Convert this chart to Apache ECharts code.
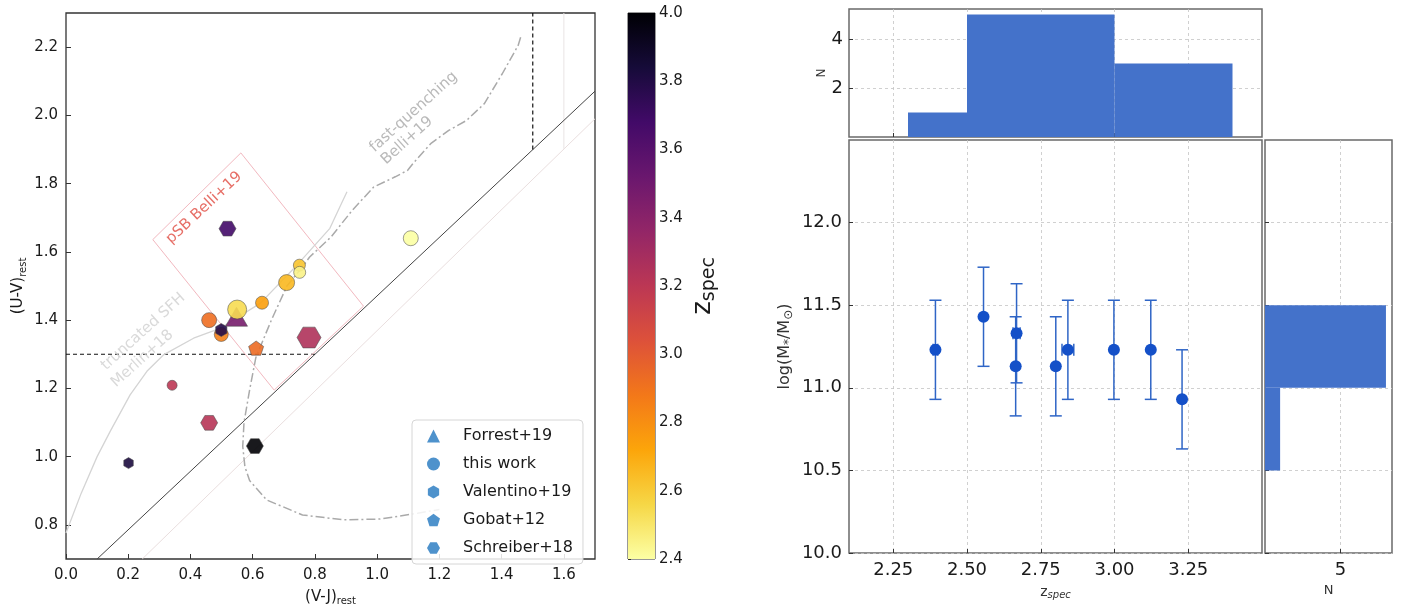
<!DOCTYPE html>
<html>
<head>
<meta charset="utf-8">
<script src="https://cdn.jsdelivr.net/npm/echarts@6/dist/echarts.min.js"></script>
<style>
  html, body { margin: 0; padding: 0; background: #fff; }
  #chart { width: 1412px; height: 612px; }
</style>
</head>
<body>
<div id="chart"></div>
<script>
// ---- UVJ diagram: [V-J, U-V, z_spec]
const forrestPts = [[0.548, 1.41, 3.47]];
const thisWorkPts = [
  [1.108, 1.640, 2.40],
  [0.750, 1.561, 2.62],
  [0.751, 1.540, 2.45],
  [0.709, 1.510, 2.66],
  [0.630, 1.451, 2.74],
  [0.550, 1.431, 2.54],
  [0.460, 1.400, 2.92],
  [0.499, 1.358, 2.85],
  [0.341, 1.209, 3.20]
];
const valentinoPts = [[0.499, 1.371, 3.79], [0.201, 0.981, 3.82]];
const gobatPts = [[0.611, 1.318, 2.93]];
const schreiberPts = [[0.519, 1.668, 3.68], [0.781, 1.349, 3.25], [0.460, 1.099, 3.22], [0.607, 1.031, 4.0]];

// marker sizes (px) per point
const forrestSize = [[22, 19]];
const thisWorkSize = [15, 12, 12, 16, 13, 19, 15, 14, 10];
const valentinoSize = [13, 11];
const gobatSize = [15];
const schreiberSize = [17, 24, 17, 17];

// selection boundaries and tracks
const selLine = [[0.1, 0.7], [1.7, 2.071]];
const selCutH = [[0, 1.3], [0.8, 1.3]];
const selCutV = [[1.5, 1.9], [1.5, 2.3]];
const altLine = [[0.245, 0.7], [1.7, 1.99]];
const altCutV = [[1.6, 1.902], [1.6, 2.3]];
const psbBox = [[0.562, 1.890], [0.956, 1.441], [0.669, 1.195], [0.279, 1.636], [0.562, 1.890]];
const merlinTrack = [
  [0, 0.776], [0.049, 0.893], [0.10, 1.0], [0.142, 1.074], [0.206, 1.181], [0.26, 1.25],
  [0.313, 1.298], [0.41, 1.347], [0.495, 1.376], [0.624, 1.449], [0.742, 1.561],
  [0.848, 1.669], [0.875, 1.722], [0.903, 1.776]
];
const belliTrack = [
  [1.461, 2.229], [1.453, 2.205], [1.402, 2.122], [1.344, 2.034], [1.287, 1.985], [1.230, 1.956],
  [1.172, 1.917], [1.115, 1.859], [1.098, 1.839], [1.058, 1.820], [0.989, 1.790], [0.920, 1.722],
  [0.852, 1.644], [0.783, 1.585], [0.760, 1.556], [0.71, 1.50], [0.66, 1.40], [0.61, 1.29],
  [0.59, 1.195], [0.572, 1.10], [0.568, 1.03], [0.575, 0.97], [0.59, 0.93], [0.645, 0.873],
  [0.76, 0.829], [0.89, 0.815], [1.01, 0.817], [1.13, 0.834], [1.2, 0.845]
];
const notes = [
  { text: 'pSB Belli+19', at: [0.444, 1.729], color: '#e04a40', rotate: 43 },
  { text: 'fast-quenching', at: [1.117, 2.010], color: '#a8a8a8', rotate: 42 },
  { text: 'Belli+19', at: [1.096, 1.926], color: '#a8a8a8', rotate: 42 },
  { text: 'truncated SFH', at: [0.248, 1.366], color: '#cfcfcf', rotate: 42 },
  { text: 'Merlin+18', at: [0.245, 1.287], color: '#cfcfcf', rotate: 42 }
];
const uvjXTicks = [0, 0.2, 0.4, 0.6, 0.8, 1.0, 1.2, 1.4, 1.6];
const uvjYTicks = [0.8, 1.0, 1.2, 1.4, 1.6, 1.8, 2.0, 2.2];
const cbarTicks = [2.4, 2.6, 2.8, 3.0, 3.2, 3.4, 3.6, 3.8, 4.0];

// ---- mass vs redshift
const specZ = [2.393, 2.556, 2.665, 2.668, 2.801, 2.842, 2.998, 3.123, 3.229];
const specMass = [11.23, 11.43, 11.13, 11.33, 11.13, 11.23, 11.23, 11.23, 10.93];
const massErr = [0.3, 0.3, 0.3, 0.3, 0.3, 0.3, 0.3, 0.3, 0.3];
const zErr = [0.008, 0, 0, 0.012, 0, 0.02, 0, 0, 0];
const zBins = [[2.3, 2.5, 1], [2.5, 3.0, 5], [3.0, 3.4, 3]];
const massBins = [[10.5, 11.0, 1], [11.0, 11.5, 8]];
const zTicks = [2.25, 2.5, 2.75, 3.0, 3.25];
const massTicks = [10.0, 10.5, 11.0, 11.5, 12.0];
const nzTicks = [2, 4];
const nmTicks = [5];

const font = 'DejaVu Sans';
const ink = '#1a1a1a';
const inferno = ['#000004', '#160b39', '#420a68', '#6a176e', '#932667', '#bc3754',
  '#dd513a', '#f37819', '#fca50a', '#f6d746', '#fcffa4'];
const infernoR = inferno.slice().reverse();
const histBlue = '#4472ca';
const ptBlue = '#1450c8';
const errBlue = '#2f65c6';
const legendBlue = '#3b86c6';

const hexPointy = 'path://M0,-1L0.866,-0.5L0.866,0.5L0,1L-0.866,0.5L-0.866,-0.5Z';
const hexFlat = 'path://M-1,0L-0.5,-0.866L0.5,-0.866L1,0L0.5,0.866L-0.5,0.866Z';
const pentagon = 'path://M0,-1L0.951,-0.309L0.588,0.809L-0.588,0.809L-0.951,-0.309Z';

const subStyle = (size, pad) => ({ fontSize: size, fontFamily: font, color: ink, lineHeight: size, padding: [pad, 0, 0, 0] });

function pointSeries(name, data, sizes, symbol) {
  return {
    name, type: 'scatter', xAxisIndex: 0, yAxisIndex: 0, data,
    symbol, symbolKeepAspect: true,
    symbolSize: (v, p) => sizes[p.dataIndex],
    itemStyle: { borderColor: '#4a4a4a', borderWidth: 0.6, opacity: 0.9 },
    z: 4
  };
}

function lineSeries(data, color, width, type) {
  return {
    type: 'line', xAxisIndex: 0, yAxisIndex: 0, data, symbol: 'none', silent: true,
    lineStyle: { color, width, type: type || 'solid' }, z: 2
  };
}

function renderHistV(params, api) {
  const a = api.coord([api.value(0), api.value(2)]);
  const b = api.coord([api.value(1), 0]);
  return { type: 'rect', shape: { x: a[0], y: a[1], width: b[0] - a[0], height: b[1] - a[1] },
    style: { fill: histBlue } };
}

function renderHistH(params, api) {
  const a = api.coord([api.value(2), api.value(1)]);
  const b = api.coord([0, api.value(0)]);
  return { type: 'rect', shape: { x: b[0], y: a[1], width: a[0] - b[0], height: b[1] - a[1] },
    style: { fill: histBlue } };
}

function renderErr(params, api) {
  const x = api.value(0), y = api.value(1), ey = api.value(2), ex = api.value(3);
  const st = { stroke: errBlue, lineWidth: 1.5 };
  const t = api.coord([x, y + ey]), b = api.coord([x, y - ey]);
  const cap = 6;
  const kids = [
    { type: 'line', shape: { x1: t[0], y1: t[1], x2: b[0], y2: b[1] }, style: st },
    { type: 'line', shape: { x1: t[0] - cap, y1: t[1], x2: t[0] + cap, y2: t[1] }, style: st },
    { type: 'line', shape: { x1: b[0] - cap, y1: b[1], x2: b[0] + cap, y2: b[1] }, style: st }
  ];
  if (ex > 0) {
    const l = api.coord([x - ex, y]), r = api.coord([x + ex, y]);
    kids.push({ type: 'line', shape: { x1: l[0], y1: l[1], x2: r[0], y2: r[1] }, style: st });
    kids.push({ type: 'line', shape: { x1: l[0], y1: l[1] - cap, x2: l[0], y2: l[1] + cap }, style: st });
    kids.push({ type: 'line', shape: { x1: r[0], y1: r[1] - cap, x2: r[0], y2: r[1] + cap }, style: st });
  }
  return { type: 'group', children: kids };
}

function renderCbar(params, api) {
  const a = api.coord([0, 4.0]);
  const b = api.coord([1, 2.4]);
  return { type: 'rect', shape: { x: a[0], y: a[1], width: b[0] - a[0], height: b[1] - a[1] },
    style: { fill: new echarts.graphic.LinearGradient(0, 0, 0, 1,
      inferno.map((c, i) => ({ offset: i / (inferno.length - 1), color: c }))) } };
}

const dashed = { show: true, lineStyle: { color: '#c4c4c4', width: 0.8, type: [3, 3] } };
const tickIn = (vals, len) => ({ show: true, inside: true, length: len || 5, customValues: vals, lineStyle: { color: '#333' } });
const noAxis = { show: false };

const chart = echarts.init(document.getElementById('chart'), null, { renderer: 'canvas' });

const option = {
  backgroundColor: '#fff',
  animation: false,
  textStyle: { fontFamily: font },
  grid: [
    { left: 66, top: 13, width: 529, height: 546, show: true, borderColor: '#333', borderWidth: 1.3, outerBoundsMode: 'none' },
    { left: 849, top: 9, width: 413, height: 128, show: true, borderColor: '#6a6a6a', borderWidth: 1.5, outerBoundsMode: 'none' },
    { left: 849, top: 140, width: 413, height: 413, show: true, borderColor: '#6a6a6a', borderWidth: 1.5, outerBoundsMode: 'none' },
    { left: 1265, top: 140, width: 127, height: 413, show: true, borderColor: '#6a6a6a', borderWidth: 1.5, outerBoundsMode: 'none' },
    { left: 628, top: 13, width: 27, height: 546, show: true, borderColor: '#333', borderWidth: 1, outerBoundsMode: 'none' }
  ],
  xAxis: [
    {
      gridIndex: 0, type: 'value', min: 0, max: 1.7,
      axisLine: noAxis, splitLine: noAxis, axisTick: tickIn(uvjXTicks),
      axisLabel: { customValues: uvjXTicks, formatter: v => v.toFixed(1), fontSize: 15, color: ink, margin: 9 },
      name: '(V-J){s|rest}', nameLocation: 'middle', nameGap: 30,
      nameTextStyle: { fontSize: 15, color: ink, rich: { s: subStyle(10, 9) } }
    },
    {
      gridIndex: 1, type: 'value', min: 2.1, max: 3.5,
      axisLine: noAxis, splitLine: dashed, axisTick: tickIn(zTicks, 4),
      axisLabel: { show: false, customValues: zTicks }
    },
    {
      gridIndex: 2, type: 'value', min: 2.1, max: 3.5,
      axisLine: noAxis, splitLine: dashed, axisTick: tickIn(zTicks, 4),
      axisLabel: { customValues: zTicks, formatter: v => v.toFixed(2), fontSize: 18, color: ink, margin: 8 },
      name: 'z{s|spec}', nameLocation: 'middle', nameGap: 28,
      nameTextStyle: { fontSize: 14, color: '#333', rich: { s: Object.assign(subStyle(10, 7), { fontStyle: 'italic', color: '#333' }) } }
    },
    {
      gridIndex: 3, type: 'value', min: 0, max: 8.4,
      axisLine: noAxis, splitLine: dashed, axisTick: tickIn(nmTicks, 4),
      axisLabel: { customValues: nmTicks, fontSize: 18, color: ink, margin: 8 },
      name: 'N', nameLocation: 'middle', nameGap: 28,
      nameTextStyle: { fontSize: 13, color: '#333' }
    },
    { gridIndex: 4, type: 'value', min: 0, max: 1, show: false }
  ],
  yAxis: [
    {
      gridIndex: 0, type: 'value', min: 0.7, max: 2.3,
      axisLine: noAxis, splitLine: noAxis, axisTick: tickIn(uvjYTicks),
      axisLabel: { customValues: uvjYTicks, formatter: v => v.toFixed(1), fontSize: 15, color: ink, margin: 8 },
      name: '(U-V){s|rest}', nameLocation: 'middle', nameGap: 40,
      nameTextStyle: { fontSize: 15, color: ink, rich: { s: subStyle(10, 9) } }
    },
    {
      gridIndex: 1, type: 'value', min: 0, max: 5.22,
      axisLine: noAxis, splitLine: dashed, axisTick: tickIn(nzTicks, 4),
      axisLabel: { customValues: nzTicks, fontSize: 18, color: ink, margin: 6 },
      name: 'N', nameLocation: 'middle', nameGap: 20,
      nameTextStyle: { fontSize: 12, color: '#333' }
    },
    {
      gridIndex: 2, type: 'value', min: 10, max: 12.5,
      axisLine: noAxis, splitLine: dashed, axisTick: tickIn(massTicks, 4),
      axisLabel: { customValues: massTicks, formatter: v => v.toFixed(1), fontSize: 18, color: ink, margin: 7 },
      name: 'log(M{s|*}/M{s|⊙})', nameLocation: 'middle', nameGap: 56,
      nameTextStyle: { fontSize: 16, color: '#333', rich: { s: Object.assign(subStyle(12, 7), { color: '#333' }) } }
    },
    {
      gridIndex: 3, type: 'value', min: 10, max: 12.5,
      axisLine: noAxis, splitLine: dashed, axisTick: tickIn(massTicks, 4),
      axisLabel: { show: false, customValues: massTicks }
    },
    {
      gridIndex: 4, type: 'value', min: 2.4, max: 4.0, position: 'right',
      axisLine: noAxis, splitLine: noAxis,
      axisTick: { show: true, inside: false, length: 3, customValues: cbarTicks, lineStyle: { color: '#333' } },
      axisLabel: { customValues: cbarTicks, formatter: v => v.toFixed(1), fontSize: 15, color: ink, margin: 4 },
      name: 'z{s|spec}', nameLocation: 'middle', nameGap: 33,
      nameTextStyle: { fontSize: 26, color: ink, rich: { s: subStyle(19, 13) } }
    }
  ],
  visualMap: {
    type: 'continuous', show: false, min: 2.4, max: 4.0, dimension: 2,
    seriesIndex: [0, 1, 2, 3, 4],
    inRange: { color: infernoR }
  },
  legend: {
    left: 412, top: 420, orient: 'vertical', selectedMode: false,
    itemWidth: 13, itemHeight: 13, itemGap: 12,
    padding: [8, 10, 8, 15],
    backgroundColor: 'rgba(255,255,255,0.85)', borderColor: '#d6d6d6', borderWidth: 1, borderRadius: 4,
    textStyle: { fontSize: 16, color: ink, fontFamily: font, padding: [0, 0, 0, 18] },
    data: [
      { name: 'Forrest+19', icon: 'triangle', itemStyle: { color: legendBlue, borderWidth: 0 } },
      { name: 'this work', icon: 'circle', itemStyle: { color: legendBlue, borderWidth: 0 } },
      { name: 'Valentino+19', icon: hexPointy, itemStyle: { color: legendBlue, borderWidth: 0 } },
      { name: 'Gobat+12', icon: pentagon, itemStyle: { color: legendBlue, borderWidth: 0 } },
      { name: 'Schreiber+18', icon: hexFlat, itemStyle: { color: legendBlue, borderWidth: 0 } }
    ],
    z: 10
  },
  series: [
    pointSeries('Forrest+19', forrestPts, forrestSize, 'triangle'),
    pointSeries('this work', thisWorkPts, thisWorkSize, 'circle'),
    pointSeries('Valentino+19', valentinoPts, valentinoSize, hexPointy),
    pointSeries('Gobat+12', gobatPts, gobatSize, pentagon),
    pointSeries('Schreiber+18', schreiberPts, schreiberSize, hexFlat),
    lineSeries(altLine, '#e9dede', 1),
    lineSeries(altCutV, '#e9e4e4', 1),
    lineSeries(selLine, '#444', 1),
    lineSeries(selCutH, '#111', 1.2, [4, 3]),
    lineSeries(selCutV, '#111', 1.2, [4, 3]),
    lineSeries(psbBox, '#f2b8bf', 1),
    lineSeries(merlinTrack, '#d4d4d4', 1.3),
    lineSeries(belliTrack, '#aaaaaa', 1.5, [9, 3, 2, 3]),
    {
      type: 'scatter', xAxisIndex: 0, yAxisIndex: 0, symbolSize: 0, silent: true, z: 3,
      data: notes.map(n => ({
        value: n.at,
        label: { show: true, position: 'inside', formatter: n.text, rotate: n.rotate,
          color: n.color, fontSize: 15, fontFamily: font }
      }))
    },
    {
      type: 'custom', xAxisIndex: 4, yAxisIndex: 4, data: [[0]], renderItem: renderCbar, silent: true
    },
    {
      type: 'custom', xAxisIndex: 1, yAxisIndex: 1, data: zBins, renderItem: renderHistV, silent: true, z: 1
    },
    {
      type: 'custom', xAxisIndex: 3, yAxisIndex: 3, data: massBins, renderItem: renderHistH, silent: true, z: 1
    },
    {
      type: 'custom', xAxisIndex: 2, yAxisIndex: 2, renderItem: renderErr, silent: true,
      data: specZ.map((z, i) => [z, specMass[i], massErr[i], zErr[i]])
    },
    {
      type: 'scatter', xAxisIndex: 2, yAxisIndex: 2, symbolSize: 12, silent: true, z: 5,
      data: specZ.map((z, i) => [z, specMass[i]]),
      itemStyle: { color: ptBlue, opacity: 1 }
    }
  ]
};

chart.setOption(option);
</script>
</body>
</html>
